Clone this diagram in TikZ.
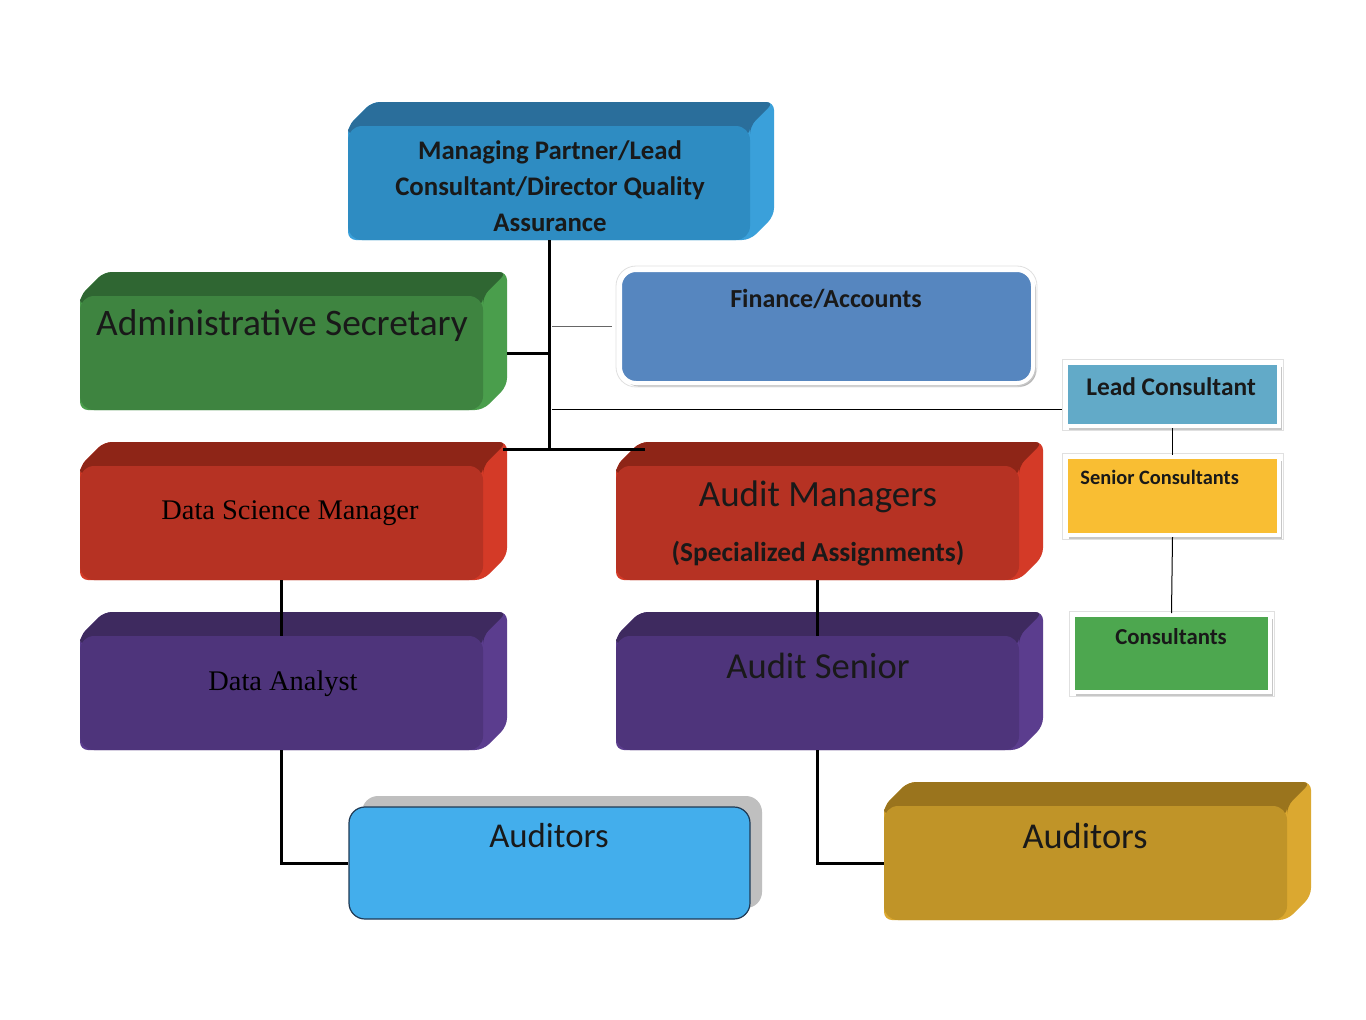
\documentclass[tikz,border=0pt]{standalone}
\usepackage{fontspec}
\setmainfont{Carlito}
\newfontfamily\serifface{Liberation Serif}
\usetikzlibrary{fit,shadows}
\definecolor{mpF}{HTML}{2E8CC2}\definecolor{mpT}{HTML}{2A6E9B}\definecolor{mpS}{HTML}{3AA0DA}
\definecolor{grF}{HTML}{3E8440}\definecolor{grT}{HTML}{2F6632}\definecolor{grS}{HTML}{4A9E4C}
\definecolor{rdF}{HTML}{B63223}\definecolor{rdT}{HTML}{8E2517}\definecolor{rdS}{HTML}{D43A27}
\definecolor{puF}{HTML}{4E347B}\definecolor{puT}{HTML}{3E2A5F}\definecolor{puS}{HTML}{5B3D8E}
\definecolor{goF}{HTML}{C09428}\definecolor{goT}{HTML}{9A741D}\definecolor{goS}{HTML}{DBA830}
\definecolor{finF}{HTML}{5686BF}
\definecolor{leadF}{HTML}{62AAC8}
\definecolor{senF}{HTML}{F9BE33}
\definecolor{conF}{HTML}{4DA74F}
\definecolor{audB}{HTML}{43AEEC}
\definecolor{audBd}{HTML}{1F3A55}
\newcommand\blk[8]{%
  \fill[#8, rounded corners=4pt] (#2,#3) -- ({#2+24},{#3-24}) -- ({#4+24},{#3-24}) -- ({#4+24},{#5-24}) -- (#4,#5) -- (#2,#5) -- cycle;
  \fill[#7, rounded corners=4pt] (#2,{#3+10}) -- (#2,#3) -- ({#2+24},{#3-24}) -- ({#4+24},{#3-24}) -- (#4,#3) -- (#4,{#3+10}) -- cycle;
  \node[fit={(#2,#3)(#4,#5)}, inner sep=0pt, fill=#6, rounded corners=7pt] (#1) {};
}
\tikzset{
  thickline/.style={line width=1.5pt, black},
  thinline/.style={line width=0.5pt, black},
  flatbox/.style={inner sep=0pt, draw=white, line width=2pt,
     drop shadow={shadow xshift=1.5pt, shadow yshift=-1.8pt, fill=black!55, opacity=0.4}},
  lbl/.style={inner sep=0pt, text=black!90},
}
\begin{document}
\begin{tikzpicture}[x=0.5pt, y=-0.5pt]
\useasboundingbox[fill=white] (0,0) rectangle (1366,1019);

% 3D blocks
\blk{mp}{348}{126}{750}{240}{mpF}{mpT}{mpS}
\blk{adm}{80}{296}{483}{410}{grF}{grT}{grS}
\blk{dsm}{80}{466}{483}{580}{rdF}{rdT}{rdS}
\blk{am}{616}{466}{1019}{580}{rdF}{rdT}{rdS}
\blk{da}{80}{636}{483}{750}{puF}{puT}{puS}
\blk{as}{616}{636}{1019}{750}{puF}{puT}{puS}
\blk{aud2}{884}{806}{1287}{920}{goF}{goT}{goS}

% flat boxes
\draw[black!12, line width=0.4pt, rounded corners=10pt] (616,266) rectangle (1037,387);
\node[flatbox, fit={(620,270)(1033,383)}, fill=finF, rounded corners=8pt] (fin) {};
\draw[black!12, line width=0.4pt] (1062,359) rectangle (1283,430);
\node[flatbox, fit={(1066,363)(1279,426)}, fill=leadF] (lead) {};
\draw[black!12, line width=0.4pt] (1062,453) rectangle (1283,539);
\node[flatbox, fit={(1066,457)(1279,535)}, fill=senF] (sen) {};
\draw[black!12, line width=0.4pt] (1069,611) rectangle (1274,696);
\node[flatbox, fit={(1073,615)(1270,692)}, fill=conF] (con) {};

% blue auditors with shadow
\fill[black!25, rounded corners=8pt] (362,796) rectangle (762,908);
\node[fit={(349,807)(750,919)}, inner sep=0pt, fill=audB, draw=audBd, line width=0.6pt, rounded corners=8pt] (aud1) {};

% texts
\node[lbl, align=center, font=\bfseries\fontsize{13.4}{18}\selectfont] (tmp) at (550,186)
  {Managing Partner/Lead\\Consultant/Director Quality\\Assurance};
\node[lbl, font=\fontsize{18.7}{22}\selectfont] (tadm) at (282,326) {Administrative Secretary};
\node[lbl, font=\bfseries\fontsize{13}{15}\selectfont] (tfin) at (826,299) {Finance/Accounts};
\node[lbl, font=\bfseries\fontsize{12.7}{15}\selectfont] (tlead) at (1171,387) {Lead Consultant};
\node[lbl, anchor=west, font=\bfseries\fontsize{10.2}{12}\selectfont] (tsen) at (1080,477) {Senior Consultants};
\node[lbl, font=\bfseries\fontsize{11.4}{13}\selectfont] (tcon) at (1171,637) {Consultants};

\node[lbl, text=black, font=\serifface\fontsize{14.2}{16}\selectfont] (tdsm) at (290,513) {Data Science Manager};
\node[lbl, text=black, font=\serifface\fontsize{14.2}{16}\selectfont] (tda) at (283,684) {Data Analyst};

\node[lbl, font=\fontsize{18.5}{21}\selectfont] (tam) at (818,497) {Audit Managers};
\node[lbl, font=\bfseries\fontsize{13.7}{16}\selectfont] (tam2) at (818,554) {(Specialized Assignments)};
\node[lbl, font=\fontsize{18.3}{21}\selectfont] (tas) at (818,666) {Audit Senior};
\node[lbl, font=\fontsize{17.4}{20}\selectfont] (taud1) at (549,836) {Auditors};
\node[lbl, font=\fontsize{18.2}{21}\selectfont] (taud2) at (1085,836) {Auditors};

% connectors
\coordinate (j1) at (550,449);
\coordinate (dsmtr) at (503,449);
\coordinate (amtl) at (645,449);
\coordinate (trunkL) at (552,409);
\draw[thickline] (mp.south) -- (mp.south |- j1);
\draw[thickline] (dsmtr) -- (amtl);
\draw[thickline] ([xshift=12pt]adm.east) -- (adm.east -| mp.south);
\draw[line width=0.5pt, black!60] ([xshift=1.5pt]fin.west -| mp.south) -- ([xshift=-3pt]fin.west);
\draw[thinline] (trunkL) -- ([xshift=-1pt]trunkL -| lead.west);
\draw[thinline] (lead.south) -- (sen.north);
\draw[thinline] (sen.south) -- (con.north);
\draw[thickline] (dsm.south) -- (da.north);
\draw[thickline] (am.south) -- (as.north);
\draw[thickline] (da.south) |- (aud1.west);
\draw[thickline] (as.south) |- (aud2.west);
\end{tikzpicture}
\end{document}
